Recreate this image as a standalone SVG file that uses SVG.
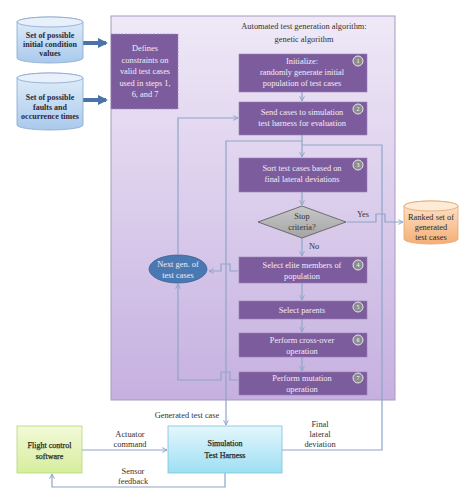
<svg xmlns="http://www.w3.org/2000/svg" width="474" height="504" viewBox="0 0 474 504">
<defs>
<linearGradient id="gBig" x1="0" y1="0" x2="0" y2="1"><stop offset="0" stop-color="#efe9f7"/><stop offset="1" stop-color="#c6b0e0"/></linearGradient>
<linearGradient id="gBlue" x1="0" y1="0" x2="0" y2="1"><stop offset="0" stop-color="#e2eefa"/><stop offset="1" stop-color="#a9c9ec"/></linearGradient>
<linearGradient id="gOrange" x1="0" y1="0" x2="0" y2="1"><stop offset="0" stop-color="#fde6cc"/><stop offset="1" stop-color="#f6ae76"/></linearGradient>
<linearGradient id="gGreen" x1="0" y1="0" x2="0" y2="1"><stop offset="0" stop-color="#f3f9d8"/><stop offset="1" stop-color="#d6ee9c"/></linearGradient>
<linearGradient id="gCyan" x1="0" y1="0" x2="0" y2="1"><stop offset="0" stop-color="#e4f7fc"/><stop offset="1" stop-color="#9ddff3"/></linearGradient>
<linearGradient id="gGray" x1="0" y1="0" x2="0" y2="1"><stop offset="0" stop-color="#c8c8c8"/><stop offset="1" stop-color="#a4a4a4"/></linearGradient>
<marker id="ah" viewBox="0 0 10 10" refX="9" refY="5" markerWidth="5" markerHeight="5" orient="auto"><path d="M1,1 L9,5 L1,9" fill="none" stroke="#8ea6c8" stroke-width="1.6"/></marker>
<marker id="ahThick" viewBox="0 0 10 10" refX="8" refY="5" markerWidth="2.6" markerHeight="2.6" orient="auto"><path d="M0,0 L10,5 L0,10 Z" fill="#4a74a8"/></marker>
<style>
.conn{fill:none;stroke:#8ea6c8;stroke-width:1.2}
.thick{fill:none;stroke:#4a74a8;stroke-width:4}
.step{fill:#7d5c9d;stroke:#9a80b6;stroke-width:0.6}
.st{font-family:"Liberation Serif",serif;font-size:8.4px;fill:#f2ecf8;text-anchor:middle}
.num{fill:#8c8c8c;stroke:#e6e6e6;stroke-width:1}
.nt{font-family:"Liberation Serif",serif;font-size:6px;fill:#ffffff;text-anchor:middle}
.lbl{font-family:"Liberation Serif",serif;font-size:8.4px;fill:#333333;text-anchor:middle}
.cyl{font-family:"Liberation Serif",serif;font-size:8px;font-weight:bold;fill:#2a2a3a;text-anchor:middle}
.rk{font-family:"Liberation Serif",serif;font-size:8.4px;fill:#2a2a2a;text-anchor:middle}
.bt{font-family:"Liberation Serif",serif;font-size:8px;fill:#2a2a2a;stroke:#2a2a2a;stroke-width:0.25;text-anchor:middle}
</style>
</defs>

<g id="algorithm-box">
<rect x="111" y="16" width="284" height="384" fill="url(#gBig)" stroke="#a89ac0" stroke-width="1"/>
<text class="lbl" x="304" y="29">Automated test generation algorithm:</text>
<text class="lbl" x="304" y="42">genetic algorithm</text>
</g>

<g id="connectors">
<path class="thick" d="M83,43 H106" marker-end="url(#ahThick)"/>
<path class="thick" d="M83,100 H106" marker-end="url(#ahThick)"/>
<path class="conn" d="M302,92 V101" marker-end="url(#ah)"/>
<path class="conn" d="M302,135 V157" marker-end="url(#ah)"/>
<path class="conn" d="M302,141 H226 V425" marker-end="url(#ah)"/>
<path class="conn" d="M282,450 H382 V145 H302"/>
<path class="conn" d="M302,192 V205" marker-end="url(#ah)"/>
<path class="conn" d="M302,238 V256" marker-end="url(#ah)"/>
<path class="conn" d="M302,283 V300" marker-end="url(#ah)"/>
<path class="conn" d="M302,319 V332" marker-end="url(#ah)"/>
<path class="conn" d="M302,357 V371" marker-end="url(#ah)"/>
<path class="conn" d="M347,222 H376 V214 H385 V222 H403" marker-end="url(#ah)"/>
<path class="conn" d="M238,271 H230 V264 H221 V271 H209" marker-end="url(#ah)"/>
<path class="conn" d="M238,380 H230 V372 H221 V380 H178 V284" marker-end="url(#ah)"/>
<path class="conn" d="M178,254 V118 H238" marker-end="url(#ah)"/>
<path class="conn" d="M82,450 H167" marker-end="url(#ah)"/>
<path class="conn" d="M225,473 V487 H52 V474" marker-end="url(#ah)"/>
<text class="lbl" x="363" y="217">Yes</text>
<text class="lbl" x="314" y="249">No</text>
<text class="lbl" x="187" y="418">Generated test case</text>
<text class="lbl" x="130" y="437">Actuator</text>
<text class="lbl" x="130" y="447">command</text>
<text class="lbl" x="133" y="474">Sensor</text>
<text class="lbl" x="133" y="484">feedback</text>
<text class="lbl" x="320" y="427">Final</text>
<text class="lbl" x="320" y="437">lateral</text>
<text class="lbl" x="320" y="447">deviation</text>
</g>

<g id="initial-conditions">
<path d="M17,22 A33,5 0 0,1 83,22 V58 A33,5 0 0,1 17,58 Z" fill="url(#gBlue)" stroke="#86a6cc" stroke-width="0.8"/>
<ellipse cx="50" cy="22" rx="33" ry="5" fill="#e8f1fb" stroke="#86a6cc" stroke-width="0.8"/>
<text class="cyl" x="50" y="38">Set of possible</text>
<text class="cyl" x="50" y="47">initial condition</text>
<text class="cyl" x="50" y="56">values</text>
</g>

<g id="faults">
<path d="M17,78 A33,5 0 0,1 83,78 V125 A33,5 0 0,1 17,125 Z" fill="url(#gBlue)" stroke="#86a6cc" stroke-width="0.8"/>
<ellipse cx="50" cy="78" rx="33" ry="5" fill="#e8f1fb" stroke="#86a6cc" stroke-width="0.8"/>
<text class="cyl" x="50" y="100">Set of possible</text>
<text class="cyl" x="50" y="110">faults and</text>
<text class="cyl" x="50" y="119">occurrence times</text>
</g>

<g id="constraints">
<rect x="111" y="34" width="67" height="75" fill="#7d5c9d" stroke="#a58cc0" stroke-width="0.8" stroke-dasharray="2,1.5"/>
<text class="st" x="145" y="51">Defines</text>
<text class="st" x="145" y="63">constraints on</text>
<text class="st" x="145" y="74">valid test cases</text>
<text class="st" x="145" y="86">used in steps 1,</text>
<text class="st" x="145" y="97">6, and 7</text>
</g>

<g id="step1">
<rect class="step" x="239" y="54" width="128" height="38"/>
<text class="st" x="302" y="64">Initialize:</text>
<text class="st" x="302" y="75">randomly generate initial</text>
<text class="st" x="302" y="86">population of test cases</text>
<circle class="num" cx="358" cy="61" r="5"/><text class="nt" x="358" y="63">1</text>
</g>

<g id="step2">
<rect class="step" x="239" y="102" width="128" height="33"/>
<text class="st" x="302" y="115">Send cases to simulation</text>
<text class="st" x="302" y="126">test harness for evaluation</text>
<circle class="num" cx="358" cy="109" r="5"/><text class="nt" x="358" y="111">2</text>
</g>

<g id="step3">
<rect class="step" x="239" y="158" width="128" height="34"/>
<text class="st" x="302" y="171">Sort test cases based on</text>
<text class="st" x="302" y="182">final lateral deviations</text>
<circle class="num" cx="358" cy="165" r="5"/><text class="nt" x="358" y="167">3</text>
</g>

<g id="stop-criteria">
<polygon points="302,206 346,222 302,238 258,222" fill="url(#gGray)" stroke="#555555" stroke-width="0.8"/>
<text class="lbl" x="302" y="219">Stop</text>
<text class="lbl" x="302" y="230">criteria?</text>
</g>

<g id="step4">
<rect class="step" x="239" y="257" width="128" height="26"/>
<text class="st" x="302" y="268">Select elite members of</text>
<text class="st" x="302" y="279">population</text>
<circle class="num" cx="358" cy="265" r="5"/><text class="nt" x="358" y="267">4</text>
</g>

<g id="step5">
<rect class="step" x="239" y="301" width="128" height="18"/>
<text class="st" x="302" y="313">Select parents</text>
<circle class="num" cx="358" cy="307" r="5"/><text class="nt" x="358" y="309">5</text>
</g>

<g id="step6">
<rect class="step" x="239" y="333" width="128" height="24"/>
<text class="st" x="302" y="343">Perform cross-over</text>
<text class="st" x="302" y="354">operation</text>
<circle class="num" cx="358" cy="340" r="5"/><text class="nt" x="358" y="342">6</text>
</g>

<g id="step7">
<rect class="step" x="239" y="372" width="128" height="23"/>
<text class="st" x="302" y="381">Perform mutation</text>
<text class="st" x="302" y="392">operation</text>
<circle class="num" cx="358" cy="378" r="5"/><text class="nt" x="358" y="380">7</text>
</g>

<g id="next-gen">
<ellipse cx="178" cy="269" rx="29" ry="14" fill="#4a78b2" stroke="#3a6296" stroke-width="0.8"/>
<text class="st" x="178" y="267">Next gen. of</text>
<text class="st" x="178" y="278">test cases</text>
</g>

<g id="ranked">
<path d="M404,206 A27,5 0 0,1 458,206 V239 A27,5 0 0,1 404,239 Z" fill="url(#gOrange)" stroke="#e2a472" stroke-width="0.8"/>
<ellipse cx="431" cy="206" rx="27" ry="5" fill="#feebd6" stroke="#e2a472" stroke-width="0.8"/>
<text class="rk" x="431" y="220">Ranked set of</text>
<text class="rk" x="431" y="230">generated</text>
<text class="rk" x="431" y="240">test cases</text>
</g>

<g id="flight-control">
<rect x="17" y="426" width="65" height="47" fill="url(#gGreen)" stroke="#b6d67c" stroke-width="0.8"/>
<text class="bt" x="49.5" y="448">Flight control</text>
<text class="bt" x="49.5" y="459">software</text>
</g>

<g id="simulation">
<rect x="168" y="426" width="114" height="47" fill="url(#gCyan)" stroke="#7fc0d8" stroke-width="0.8"/>
<text class="bt" x="225" y="446">Simulation</text>
<text class="bt" x="225" y="458">Test Harness</text>
</g>
</svg>
